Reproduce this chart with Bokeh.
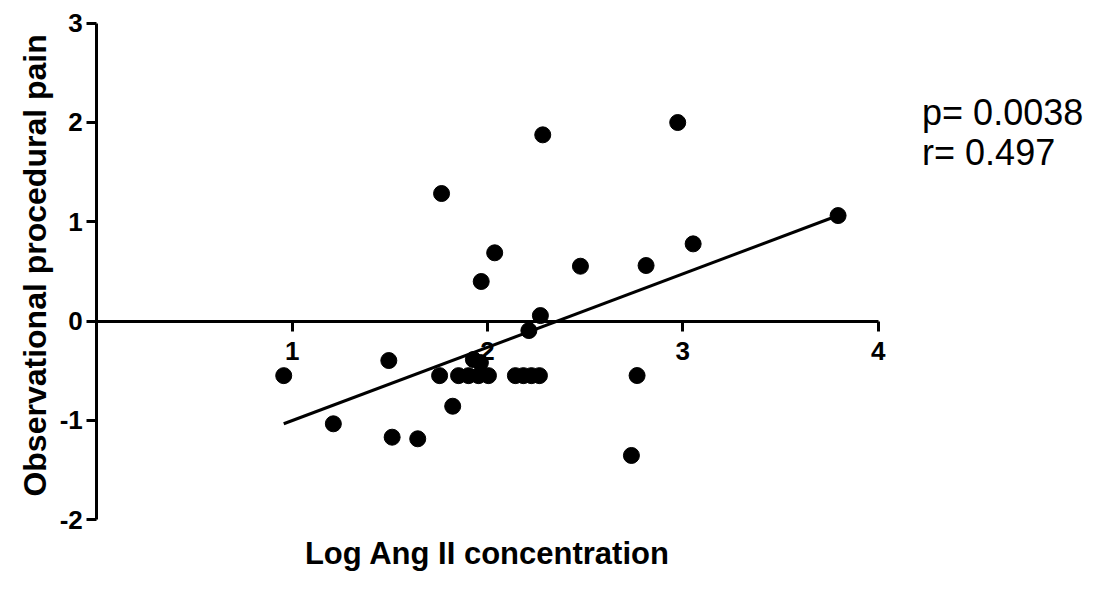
import math
import numpy as np
from bokeh.plotting import figure
from bokeh.models import Label, FixedTicker
from bokeh.embed import file_html
from bokeh.resources import INLINE

# ---- data ----
log_ang = [0.957, 1.211, 1.495, 1.512, 1.643, 1.765,
           1.755, 1.852, 1.903, 1.954, 2.005,
           2.143, 2.184, 2.225, 2.266, 2.766,
           1.822, 1.928, 1.964, 2.037, 1.968, 2.476,
           2.812, 3.053, 2.283, 2.974, 3.795, 2.737,
           2.271, 2.212]
pain = [-0.55, -1.035, -0.398, -1.170, -1.186, 1.284,
        -0.55, -0.55, -0.55, -0.55, -0.55,
        -0.55, -0.55, -0.55, -0.55, -0.549,
        -0.858, -0.388, -0.418, 0.687, 0.398, 0.552,
        0.559, 0.777, 1.875, 1.999, 1.062, -1.354,
        0.055, -0.096]
fit_slope = 0.739
fit_intercept = -1.742
stats_text = ["p= 0.0038", "r= 0.497"]
stats_y = [2.10, 1.70]
x_ticks = [1, 2, 3, 4]
y_ticks = [-2, -1, 0, 1, 2, 3]
x_title = "Log Ang II concentration"
y_title = "Observational procedural pain"

FONT = "Liberation Sans"

p = figure(frame_width=1088, frame_height=592,
           x_range=(-0.493, 5.077), y_range=(-2.734, 3.228),
           output_backend="svg", toolbar_location=None,
           min_border=0,
           background_fill_color="white", border_fill_color="white")
p.grid.visible = False
p.outline_line_color = None

# x axis crossing at y = 0
xa = p.xaxis[0]
xa.fixed_location = 0
xa.bounds = (0, 4)
xa.ticker = FixedTicker(ticks=x_ticks)
xa.minor_tick_line_color = None
xa.major_tick_in = 0
xa.major_tick_out = 10
xa.major_tick_line_width = 3
xa.axis_line_width = 3
xa.major_label_standoff = 11
xa.major_label_text_font = FONT
xa.major_label_text_font_style = "bold"
xa.major_label_text_font_size = "26px"
xa.major_label_text_color = "black"
xa.level = "underlay"

# y axis at x = 0
ya = p.yaxis[0]
ya.fixed_location = 0
ya.bounds = (-2, 3)
ya.ticker = FixedTicker(ticks=y_ticks)
ya.minor_tick_line_color = None
ya.major_tick_in = 0
ya.major_tick_out = 10
ya.major_tick_line_width = 3
ya.axis_line_width = 3
ya.major_label_standoff = 4
ya.major_label_text_font = FONT
ya.major_label_text_font_style = "bold"
ya.major_label_text_font_size = "26px"
ya.major_label_text_color = "black"
ya.major_label_overrides = {-2: "-2", -1: "-1"}

# axis titles
p.add_layout(Label(x=2.0, y=-2.34, text=x_title, text_font=FONT,
                   text_font_style="bold", text_font_size="31px",
                   text_color="black", text_align="center",
                   text_baseline="middle"))
p.add_layout(Label(x=-0.314, y=0.56, text=y_title, text_font=FONT,
                   text_font_style="bold", text_font_size="32px",
                   text_color="black", text_align="center",
                   text_baseline="middle", angle=math.pi / 2))

# regression line
fx = np.array([min(log_ang), max(log_ang)])
fy = fit_slope * fx + fit_intercept
p.line(fx, fy, line_color="black", line_width=3)

# data points
p.scatter(log_ang, pain, size=16, marker="circle",
          fill_color="black", line_color="black")

# stats text
for t, yy in zip(stats_text, stats_y):
    p.add_layout(Label(x=4.225, y=yy, text=t, text_font=FONT,
                       text_font_size="36px", text_color="black",
                       text_baseline="alphabetic"))

open("out.html", "w").write(file_html(p, INLINE))
